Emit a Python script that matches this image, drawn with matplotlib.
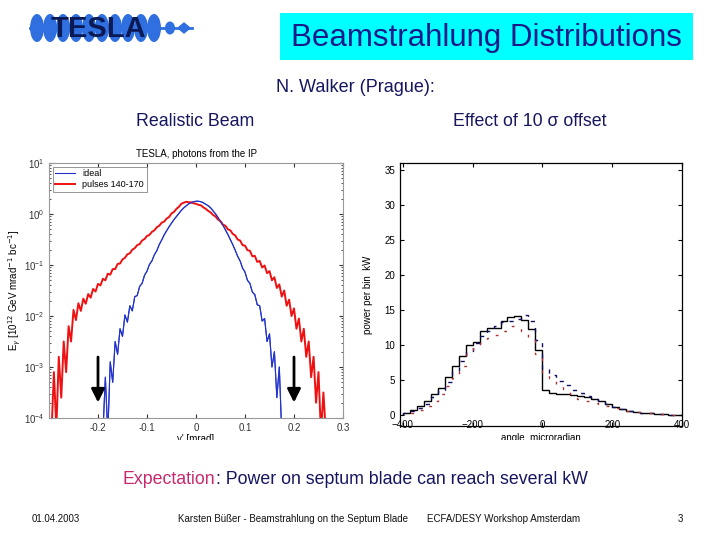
import matplotlib
matplotlib.use('Agg')
import matplotlib.pyplot as plt
import numpy as np
from matplotlib.patches import Rectangle, Ellipse, Polygon

plt.rcParams['font.family'] = ['Liberation Sans', 'DejaVu Sans']

# ---------------- left panel data (log10 of E_gamma) ----------------
red_x = [-0.295, -0.290, -0.285, -0.280, -0.275, -0.270, -0.265, -0.260, -0.255, -0.250,
         -0.245, -0.240, -0.235, -0.230, -0.225, -0.220, -0.215, -0.210, -0.205, -0.200,
         -0.195, -0.190, -0.185, -0.180, -0.175, -0.170, -0.165, -0.160, -0.155, -0.150,
         -0.145, -0.140, -0.135, -0.130, -0.125, -0.120, -0.115, -0.110, -0.105, -0.100,
         -0.095, -0.090, -0.085, -0.080, -0.075, -0.070, -0.065, -0.060, -0.055, -0.050,
         -0.045, -0.040, -0.035, -0.030, -0.025, -0.020, -0.015, -0.010, -0.005, 0.000,
         0.005, 0.010, 0.015, 0.020, 0.025, 0.030, 0.035, 0.040, 0.045, 0.050,
         0.055, 0.060, 0.065, 0.070, 0.075, 0.080, 0.085, 0.090, 0.095, 0.100,
         0.105, 0.110, 0.115, 0.120, 0.125, 0.130, 0.135, 0.140, 0.145, 0.150,
         0.155, 0.160, 0.165, 0.170, 0.175, 0.180, 0.185, 0.190, 0.195, 0.200,
         0.205, 0.210, 0.215, 0.220, 0.225, 0.230, 0.235, 0.240, 0.245, 0.250,
         0.255, 0.260, 0.265]
red_logE = [-4.3, -3.1, -4.2, -2.8, -3.6, -2.5, -3.1, -2.2, -2.5, -1.88,
            -2.08, -1.75, -1.9, -1.66, -1.76, -1.57, -1.64, -1.47, -1.52, -1.37,
            -1.4, -1.27, -1.3, -1.17, -1.19, -1.08, -1.08, -0.98, -0.97, -0.89,
            -0.86, -0.79, -0.77, -0.7, -0.67, -0.61, -0.59, -0.52, -0.49, -0.43,
            -0.41, -0.35, -0.32, -0.26, -0.23, -0.17, -0.15, -0.09, -0.06, 0.01,
            0.04, 0.1, 0.14, 0.2, 0.22, 0.24, 0.23, 0.23, 0.21, 0.2,
            0.18, 0.17, 0.13, 0.1, 0.06, 0.03, -0.02, -0.05, -0.11, -0.14,
            -0.21, -0.23, -0.3, -0.32, -0.39, -0.42, -0.5, -0.52, -0.61, -0.62,
            -0.71, -0.72, -0.83, -0.82, -0.94, -0.92, -1.05, -1.01, -1.16, -1.12,
            -1.3, -1.24, -1.45, -1.38, -1.62, -1.5, -1.8, -1.68, -2.0, -1.85,
            -2.25, -2.05, -2.5, -2.25, -2.8, -2.5, -3.2, -2.8, -3.7, -3.1,
            -4.3, -3.5, -4.3]

blue_x = [-0.190, -0.185, -0.180, -0.175, -0.170, -0.165, -0.160, -0.155, -0.150, -0.145,
          -0.140, -0.135, -0.130, -0.125, -0.120, -0.115, -0.110, -0.105, -0.100, -0.095,
          -0.090, -0.085, -0.080, -0.075, -0.070, -0.065, -0.060, -0.055, -0.050, -0.045,
          -0.040, -0.035, -0.030, -0.025, -0.020, -0.015, -0.010, -0.005, 0.000, 0.005,
          0.010, 0.015, 0.020, 0.025, 0.030, 0.035, 0.040, 0.045, 0.050, 0.055,
          0.060, 0.065, 0.070, 0.075, 0.080, 0.085, 0.090, 0.095, 0.100, 0.105,
          0.110, 0.115, 0.120, 0.125, 0.130, 0.135, 0.140, 0.145, 0.150, 0.155,
          0.160, 0.165, 0.170, 0.175]
blue_logE = [-4.3, -3.2, -4.3, -2.9, -3.3, -2.5, -2.75, -2.25, -2.4, -1.98,
             -2.12, -1.8, -1.9, -1.62, -1.6, -1.42, -1.36, -1.2, -1.12, -0.99,
             -0.92, -0.8, -0.72, -0.6, -0.51, -0.41, -0.33, -0.25, -0.18, -0.11,
             -0.05, 0.01, 0.07, 0.12, 0.16, 0.2, 0.22, 0.24, 0.25, 0.25,
             0.24, 0.22, 0.19, 0.16, 0.12, 0.06, 0.0, -0.07, -0.15, -0.22,
             -0.31, -0.4, -0.5, -0.6, -0.71, -0.83, -0.92, -1.06, -1.14, -1.3,
             -1.36, -1.53, -1.58, -1.78, -1.8, -2.1, -2.05, -2.5, -2.35, -3.0,
             -2.7, -3.6, -3.0, -4.3]

left_xticks = [-0.2, -0.1, 0, 0.1, 0.2, 0.3]
left_xticklabels = ['-0.2', '-0.1', '0', '0.1', '0.2', '0.3']
arrow_x = [-0.2, 0.2]

# ---------------- right panel data (kW per bin) ----------------
bin_edges = [-400, -380, -360, -340, -320, -300, -280, -260, -240, -220, -200,
             -180, -160, -140, -120, -100, -80, -60, -40, -20, 0,
             20, 40, 60, 80, 100, 120, 140, 160, 180, 200,
             220, 240, 260, 280, 300, 320, 340, 360, 380, 400]
black_kw = [0.4, 0.8, 1.3, 2.1, 3.0, 3.9, 5.5, 7.0, 8.5, 10.0,
            10.5, 12.0, 12.5, 12.5, 13.5, 14.0, 14.2, 13.6, 12.3, 9.3,
            3.7, 3.2, 3.1, 3.0, 2.9, 2.8, 2.6, 2.3, 2.1, 1.6,
            1.2, 0.9, 0.7, 0.5, 0.4, 0.3, 0.2, 0.2, 0.1, 0.1]
blue_kw = [0.3, 0.6, 1.0, 1.7, 2.6, 3.6, 4.8, 6.3, 7.8, 9.2,
           10.4, 11.3, 12.0, 12.8, 13.3, 13.5, 13.8, 14.3, 13.5, 10.8,
           6.6, 5.8, 4.9, 4.3, 3.7, 3.2, 2.8, 2.4, 2.0, 1.6,
           1.2, 0.9, 0.7, 0.5, 0.4, 0.3, 0.2, 0.2, 0.1, 0.1]
red_kw = [0.2, 0.4, 0.8, 1.3, 2.0, 3.0, 4.2, 5.3, 7.0, 8.8,
          9.8, 10.3, 11.1, 11.5, 12.0, 12.8, 12.5, 12.0, 11.0, 8.7,
          6.0, 5.3, 4.5, 3.8, 3.0, 2.4, 2.0, 1.8, 1.6, 1.3,
          1.0, 0.8, 0.6, 0.5, 0.4, 0.3, 0.2, 0.15, 0.1, 0.1]
right_xticks = [-400, -200, 0, 200, 400]
right_yticks = [0, 5, 10, 15, 20, 25, 30, 35]

# ---------------- figure ----------------
fig = plt.figure(figsize=(7.2, 5.4), dpi=100)
fig.patch.set_facecolor('white')

bg = fig.add_axes([0, 0, 1, 1], zorder=0)
bg.set_xlim(0, 720)
bg.set_ylim(540, 0)
bg.axis('off')

# TESLA logo
for cx in [37, 50, 63, 76, 89, 102, 115, 128, 141, 154]:
    bg.add_patch(Ellipse((cx, 28), 14, 28, color='#2f6fe0', lw=0))
bg.plot([30, 192], [28, 28], color='#2f6fe0', lw=2)
bg.add_patch(Ellipse((170, 28), 10, 13, color='#2f6fe0', lw=0))
bg.add_patch(Polygon([[178, 28], [184, 23], [190, 28], [184, 33]], closed=True, color='#2f6fe0'))
bg.text(98, 29, 'TESLA', fontsize=21, fontweight='bold', color='#0b1a55',
        ha='center', va='center')

# Title box
bg.add_patch(Rectangle((280, 13), 413, 47, facecolor='#00ffff', edgecolor='none'))
bg.text(486.5, 38, 'Beamstrahlung Distributions', fontsize=22.5, color='#1a1a8a',
        ha='center', va='center')

navy = '#151560'
bg.text(355, 88, 'N. Walker (Prague):', fontsize=13, color=navy, ha='center', va='center')
bg.text(195, 121, 'Realistic Beam', fontsize=12.8, color=navy, ha='center', va='center')
bg.text(530, 121, 'Effect of 10 σ offset', fontsize=12.8, color=navy, ha='center', va='center')

# Expectation line
t1 = bg.text(123, 479, 'Expectation', fontsize=12.8, color='#c8286e', ha='left', va='center')
fig.canvas.draw()
bb = t1.get_window_extent()
x_end = bb.x1 * 720 / fig.bbox.width
bg.text(x_end, 479, ': Power on septum blade can reach several kW', fontsize=12.8,
        color=navy, ha='left', va='center')

# footer
bg.text(32, 519, '01.04.2003', fontsize=7, color='#111111', ha='left', va='center')
bg.text(178, 519, 'Karsten Büßer - Beamstrahlung on the Septum Blade', fontsize=7,
        color='#111111', ha='left', va='center')
bg.text(427, 519, 'ECFA/DESY Workshop Amsterdam', fontsize=7, color='#111111',
        ha='left', va='center')
bg.text(680, 519, '3', fontsize=7, color='#111111', ha='center', va='center')

# ---------------- left panel ----------------
axL = fig.add_axes([49/720, 1-418/540, 294/720, 255/540], zorder=2)
axL.plot(blue_x, np.power(10.0, blue_logE), color='#2233cc', lw=0.8, label='ideal')
axL.plot(red_x, np.power(10.0, red_logE), color='#ee1111', lw=1.4, label='pulses 140-170')
axL.plot(blue_x, np.power(10.0, blue_logE), color='#2233cc', lw=0.8)
axL.set_yscale('log')
axL.set_xlim(-0.3, 0.3)
axL.set_ylim(1e-4, 10)
axL.set_xticks(left_xticks)
axL.set_xticklabels(left_xticklabels)
axL.tick_params(which='both', direction='in', labelsize=7, top=True, right=True,
                colors='#333333', length=3)
axL.tick_params(which='minor', length=1.5)
for s in axL.spines.values():
    s.set_color('#999999')
    s.set_linewidth(0.8)
axL.set_title('TESLA, photons from the IP', fontsize=7, pad=4)
axL.set_ylabel(r'E$_\gamma$ [10$^{12}$ GeV mrad$^{-1}$ bc$^{-1}$]', fontsize=7, labelpad=0.5)
axL.set_xlabel("y' [mrad]", fontsize=7, labelpad=1)
leg = axL.legend(loc='upper left', fontsize=6.5, frameon=True, fancybox=False,
                 edgecolor='#666666', borderpad=0.3, labelspacing=0.2,
                 handlelength=2.2, borderaxespad=0.4)
leg.get_frame().set_linewidth(0.6)
for ax_x in arrow_x:
    axL.annotate('', xy=(ax_x, 10**-3.75), xytext=(ax_x, 10**-2.75),
                 arrowprops=dict(arrowstyle='-|>,head_width=0.4,head_length=0.8',
                                 color='black', lw=2))

# ---------------- right panel ----------------
axR = fig.add_axes([400/720, 1-426/540, 282/720, 263/540], zorder=2)
axR.stairs(black_kw, bin_edges, color='black', lw=1.0)
axR.stairs(blue_kw, bin_edges, color='#101060', lw=1.0, linestyle=(0, (3, 5)))
axR.stairs(red_kw, bin_edges, color='#b03030', lw=1.0, linestyle=(2, (2, 7)))
axR.set_xlim(-408, 400)
axR.set_ylim(-1.5, 36)
axR.set_xticks(right_xticks)
axR.set_yticks(right_yticks)
axR.tick_params(direction='in', labelsize=7, top=True, right=True, length=3)
axR.tick_params(axis='x', pad=-4)
for s in axR.spines.values():
    s.set_linewidth(0.9)
axR.set_ylabel('power per bin  kW', fontsize=7, labelpad=8)
axR.set_xlabel('angle  microradian', fontsize=7, labelpad=2)

# crop the bottom of the axis labels like the slide picture
fig.add_artist(Rectangle((0.06, 1 - 455/540), 0.94, 15/540, transform=fig.transFigure,
                         facecolor='white', edgecolor='none', zorder=5))

fig.savefig('out.png', dpi=100, facecolor='white')
